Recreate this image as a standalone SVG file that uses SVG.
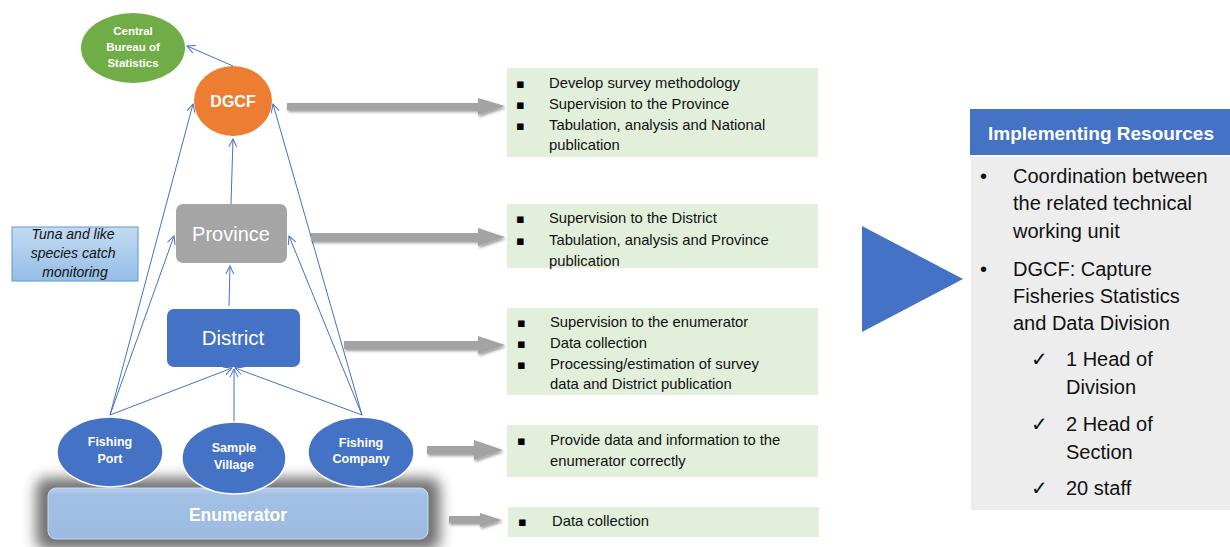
<svg xmlns="http://www.w3.org/2000/svg" width="1230" height="547" viewBox="0 0 1230 547">
<defs>
<style>
.conn{stroke:#4472c4;stroke-width:1;fill:none;marker-end:url(#open)}
.wb{font-family:"Liberation Sans",Arial,sans-serif;font-weight:bold;fill:#fff;text-anchor:middle}
.g{fill:#e2efda}
.gt{font-family:"Liberation Sans",Arial,sans-serif;font-size:14.8px;fill:#111}
.bl{font-family:"DejaVu Sans",sans-serif;font-size:13px;fill:#000}
.rt{font-family:"Liberation Sans",Arial,sans-serif;font-size:20px;fill:#111}
.ck{font-family:"DejaVu Sans",sans-serif;font-size:20px;fill:#111}
.ga{fill:#a3a3a3;filter:url(#sh)}
.ell{fill:#4472c4;stroke:#fff;stroke-width:1.5}
</style>
<marker id="open" viewBox="0 0 10 10" refX="9" refY="5" markerWidth="10" markerHeight="10" markerUnits="userSpaceOnUse" orient="auto">
<path d="M1,1 L9,5 L1,9" fill="none" stroke="#4472c4" stroke-width="1"/>
</marker>
<filter id="sh" x="-10%" y="-50%" width="120%" height="200%">
<feGaussianBlur in="SourceAlpha" stdDeviation="1.5"/>
<feOffset dx="1" dy="2" result="o"/>
<feComponentTransfer><feFuncA type="linear" slope="0.4"/></feComponentTransfer>
<feMerge><feMergeNode/><feMergeNode in="SourceGraphic"/></feMerge>
</filter>
<filter id="glow" x="-20%" y="-60%" width="140%" height="220%">
<feGaussianBlur stdDeviation="7"/>
</filter>
<linearGradient id="tuna" x1="0" y1="0" x2="0" y2="1">
<stop offset="0" stop-color="#c3dbf2"/>
<stop offset="1" stop-color="#95bde6"/>
</linearGradient>
<linearGradient id="enum" x1="0" y1="0" x2="0" y2="1">
<stop offset="0" stop-color="#b4cdec"/>
<stop offset="0.15" stop-color="#a2bfe4"/>
<stop offset="1" stop-color="#9dbbe2"/>
</linearGradient>
</defs>
<rect width="1230" height="547" fill="#fff"/>

<g id="enumerator">
<rect x="36" y="478" width="404" height="72" rx="10" fill="#333" opacity="0.7" filter="url(#glow)"/>
<rect x="48" y="488" width="380" height="51" rx="8" fill="url(#enum)" stroke="#c9daf0" stroke-width="1"/>
<text class="wb" x="238" y="521" font-size="17.5">Enumerator</text>
</g>

<g id="connectors">
<line class="conn" x1="233" y1="66" x2="187" y2="46"/>
<line class="conn" x1="231" y1="204" x2="233" y2="139"/>
<line class="conn" x1="229" y1="306" x2="230" y2="266"/>
<line class="conn" x1="110" y1="415" x2="193" y2="104"/>
<line class="conn" x1="110" y1="415" x2="174" y2="236"/>
<line class="conn" x1="110" y1="415" x2="232" y2="368"/>
<line class="conn" x1="234" y1="422" x2="234" y2="369"/>
<line class="conn" x1="362" y1="415" x2="273" y2="104"/>
<line class="conn" x1="362" y1="415" x2="289" y2="236"/>
<line class="conn" x1="362" y1="415" x2="235" y2="368"/>
</g>

<g id="cbs">
<ellipse cx="133" cy="48" rx="52" ry="35" fill="#70ad47"/>
<text class="wb" font-size="11.5" x="133" y="35">Central</text>
<text class="wb" font-size="11.5" x="133" y="51">Bureau of</text>
<text class="wb" font-size="11.5" x="133" y="67">Statistics</text>
</g>

<g id="dgcf">
<ellipse cx="233" cy="101" rx="39" ry="35" fill="#ed7d31"/>
<text class="wb" font-size="16" x="233" y="107">DGCF</text>
</g>

<g id="province">
<rect x="176" y="204" width="111" height="59" rx="7" fill="#a5a5a5"/>
<text x="231" y="241" font-family="Liberation Sans,Arial,sans-serif" font-size="20" fill="#fff" text-anchor="middle">Province</text>
</g>

<g id="district">
<rect x="167" y="309" width="133" height="58" rx="7" fill="#4472c4"/>
<text x="233" y="345" font-family="Liberation Sans,Arial,sans-serif" font-size="20.5" fill="#fff" text-anchor="middle">District</text>
</g>

<g id="tuna">
<rect x="12" y="227" width="126" height="54" fill="url(#tuna)" stroke="#5b9bd5" stroke-width="1"/>
<text font-family="Liberation Sans,Arial,sans-serif" font-style="italic" font-size="14" fill="#111" text-anchor="middle">
<tspan x="75" y="239">Tuna and like</tspan>
<tspan x="75" y="258">species catch</tspan>
<tspan x="75" y="277">monitoring</tspan>
</text>
</g>

<g id="fishing-port">
<ellipse class="ell" cx="110" cy="452" rx="53" ry="35"/>
<text class="wb" font-size="12.5" x="110" y="446">Fishing</text>
<text class="wb" font-size="12.5" x="110" y="463">Port</text>
</g>
<g id="sample-village">
<ellipse class="ell" cx="234" cy="458" rx="52" ry="36"/>
<text class="wb" font-size="12.5" x="234" y="452">Sample</text>
<text class="wb" font-size="12.5" x="234" y="469">Village</text>
</g>
<g id="fishing-company">
<ellipse class="ell" cx="361" cy="452" rx="53" ry="35"/>
<text class="wb" font-size="12.5" x="361" y="447">Fishing</text>
<text class="wb" font-size="12.5" x="361" y="463">Company</text>
</g>

<g id="block-arrows">
<path class="ga" d="M287,103 L478,103 L478,98 L505,106 L478,115 L478,110 L287,110 Z"/>
<path class="ga" d="M311,233 L478,233 L478,228 L505,237 L478,246 L478,241 L311,241 Z"/>
<path class="ga" d="M344,341 L478,341 L478,336 L505,345 L478,354 L478,349 L344,349 Z"/>
<path class="ga" d="M427,446 L474,446 L474,440 L503,450 L474,460 L474,454 L427,454 Z"/>
<path class="ga" d="M449,516 L480,516 L480,513 L502,520 L480,527 L480,523 L449,523 Z"/>
</g>

<g id="box-national">
<rect class="g" x="507" y="68" width="311" height="89"/>
<text class="bl" x="516" y="88">▪</text><text class="gt" x="549" y="88">Develop survey methodology</text>
<text class="bl" x="516" y="109">▪</text><text class="gt" x="549" y="109">Supervision to the Province</text>
<text class="bl" x="516" y="130">▪</text><text class="gt" x="549" y="130">Tabulation, analysis and National</text>
<text class="gt" x="549" y="150">publication</text>
</g>

<g id="box-province">
<rect class="g" x="507" y="204" width="311" height="64"/>
<text class="bl" x="516" y="223">▪</text><text class="gt" x="549" y="223">Supervision to the District</text>
<text class="bl" x="516" y="245">▪</text><text class="gt" x="549" y="245">Tabulation, analysis and Province</text>
<text class="gt" x="549" y="266">publication</text>
</g>

<g id="box-district">
<rect class="g" x="507" y="308" width="311" height="87"/>
<text class="bl" x="517" y="327">▪</text><text class="gt" x="550" y="327">Supervision to the enumerator</text>
<text class="bl" x="517" y="348">▪</text><text class="gt" x="550" y="348">Data collection</text>
<text class="bl" x="517" y="369">▪</text><text class="gt" x="550" y="369">Processing/estimation of survey</text>
<text class="gt" x="550" y="389">data and District publication</text>
</g>

<g id="box-sources">
<rect class="g" x="507" y="425" width="311" height="52"/>
<text class="bl" x="517" y="445">▪</text><text class="gt" x="550" y="445">Provide data and information to the</text>
<text class="gt" x="550" y="466">enumerator correctly</text>
</g>

<g id="box-enumerator">
<rect class="g" x="508" y="507" width="311" height="30"/>
<text class="bl" x="518" y="526">▪</text><text class="gt" x="552" y="526">Data collection</text>
</g>

<g id="triangle">
<polygon points="862,226 963,279 862,332" fill="#4472c4"/>
</g>

<g id="resources">
<rect x="970" y="109" width="260" height="46" fill="#4472c4"/>
<text class="wb" font-size="19" x="1101" y="140">Implementing Resources</text>
<rect x="971" y="157" width="259" height="353" fill="#ededed"/>
<text class="rt" x="980" y="183">•</text><text class="rt" x="1013" y="183">Coordination between</text>
<text class="rt" x="1013" y="210">the related technical</text>
<text class="rt" x="1013" y="238">working unit</text>
<text class="rt" x="980" y="276">•</text><text class="rt" x="1013" y="276">DGCF: Capture</text>
<text class="rt" x="1013" y="303">Fisheries Statistics</text>
<text class="rt" x="1013" y="330">and Data Division</text>
<text class="ck" x="1031" y="366">✓</text><text class="rt" x="1066" y="366">1 Head of</text>
<text class="rt" x="1066" y="394">Division</text>
<text class="ck" x="1031" y="431">✓</text><text class="rt" x="1066" y="431">2 Head of</text>
<text class="rt" x="1066" y="459">Section</text>
<text class="ck" x="1031" y="495">✓</text><text class="rt" x="1066" y="495">20 staff</text>
</g>
</svg>
